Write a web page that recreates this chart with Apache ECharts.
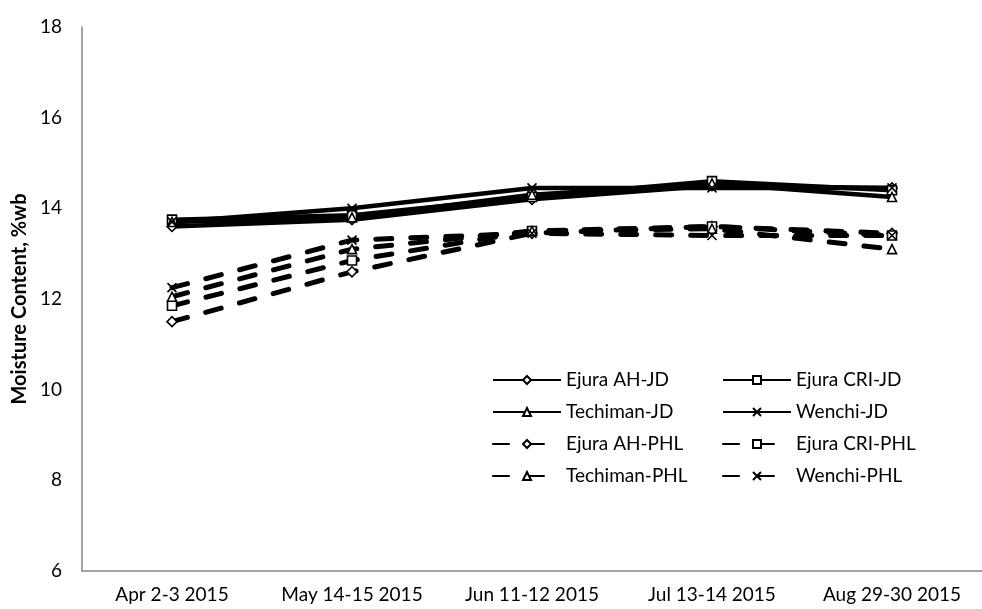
<!DOCTYPE html>
<html><head><meta charset="utf-8">
<script src="https://cdn.jsdelivr.net/npm/echarts@6/dist/echarts.min.js"></script>
<style>html,body{margin:0;padding:0;background:#fff}#c{width:982px;height:609px}</style>
</head><body><div id="c"></div>
<script>
const categories = ['Apr 2-3 2015','May 14-15 2015','Jun 11-12 2015','Jul 13-14 2015','Aug 29-30 2015'];
const ejuraAhJd    = [13.6, 13.75, 14.2, 14.5, 14.45];
const ejuraCriJd   = [13.75, 13.85, 14.25, 14.6, 14.4];
const techimanJd   = [13.7, 13.8, 14.3, 14.55, 14.25];
const wenchiJd     = [13.7, 14.0, 14.45, 14.45, 14.45];
const ejuraAhPhl   = [11.5, 12.6, 13.45, 13.6, 13.45];
const ejuraCriPhl  = [11.85, 12.85, 13.5, 13.6, 13.4];
const techimanPhl  = [12.05, 13.1, 13.5, 13.55, 13.1];
const wenchiPhl    = [12.25, 13.3, 13.45, 13.4, 13.4];
const yTicks = [6, 8, 10, 12, 14, 16, 18];

const FONT = 'Lato';
const X = 'path://M0,0 L10,10 M10,0 L0,10';
function mk(name, data, symbol, dashed, size) {
  return {
    name, type: 'line', data, symbol, symbolSize: size || 9,
    showAllSymbol: true,
    lineStyle: { color: '#000', width: dashed ? 5 : 4.5, type: dashed ? [16, 19] : 'solid', cap: dashed ? 'round' : 'butt' },
    itemStyle: { color: '#fff', borderColor: '#000', borderWidth: 1.6 },
    emphasis: { disabled: true }, animation: false, z: dashed ? 2 : 3
  };
}
const chart = echarts.init(document.getElementById('c'), null, { renderer: 'canvas' });
const legendCommon = {
  orient: 'vertical', itemWidth: 68, itemHeight: 10, itemGap: 12, padding: 0,
  textStyle: { fontFamily: FONT, fontSize: 19, lineHeight: 20, color: '#000' }, selectedMode: false
};
chart.setOption({
  animation: false,
  grid: { left: 82, right: -10, top: 27, bottom: 38 },
  legend: [
    Object.assign({ left: 492, top: 370, data: ['Ejura AH-JD','Techiman-JD','Ejura AH-PHL','Techiman-PHL'] }, legendCommon),
    Object.assign({ left: 722, top: 370, data: ['Ejura CRI-JD','Wenchi-JD','Ejura CRI-PHL','Wenchi-PHL'] }, legendCommon)
  ],
  xAxis: {
    type: 'category', data: categories, boundaryGap: true,
    axisLine: { lineStyle: { color: '#868686', width: 1.5 } },
    axisTick: { show: false },
    axisLabel: { fontFamily: FONT, fontSize: 19, color: '#000', margin: 14, interval: 0 }
  },
  yAxis: {
    type: 'value', min: 6, max: 18, interval: 2,
    name: 'Moisture Content, %wb', nameLocation: 'middle', nameGap: 51,
    nameTextStyle: { fontFamily: FONT, fontSize: 20, fontWeight: 'bold', color: '#000' },
    axisLine: { show: true, lineStyle: { color: '#868686', width: 1.5 } },
    axisTick: { show: false },
    splitLine: { show: false },
    axisLabel: { fontFamily: FONT, fontSize: 19, color: '#000', margin: 20,
      formatter: v => yTicks.includes(v) ? String(v) : '' }
  },
  series: [
    mk('Ejura AH-JD', ejuraAhJd, 'diamond', false, 10),
    mk('Ejura CRI-JD', ejuraCriJd, 'rect', false, 9),
    mk('Techiman-JD', techimanJd, 'triangle', false, 9),
    mk('Wenchi-JD', wenchiJd, X, false, 9),
    mk('Ejura AH-PHL', ejuraAhPhl, 'diamond', true, 10),
    mk('Ejura CRI-PHL', ejuraCriPhl, 'rect', true, 9),
    mk('Techiman-PHL', techimanPhl, 'triangle', true, 9),
    mk('Wenchi-PHL', wenchiPhl, X, true, 9)
  ]
});
</script></body></html>
